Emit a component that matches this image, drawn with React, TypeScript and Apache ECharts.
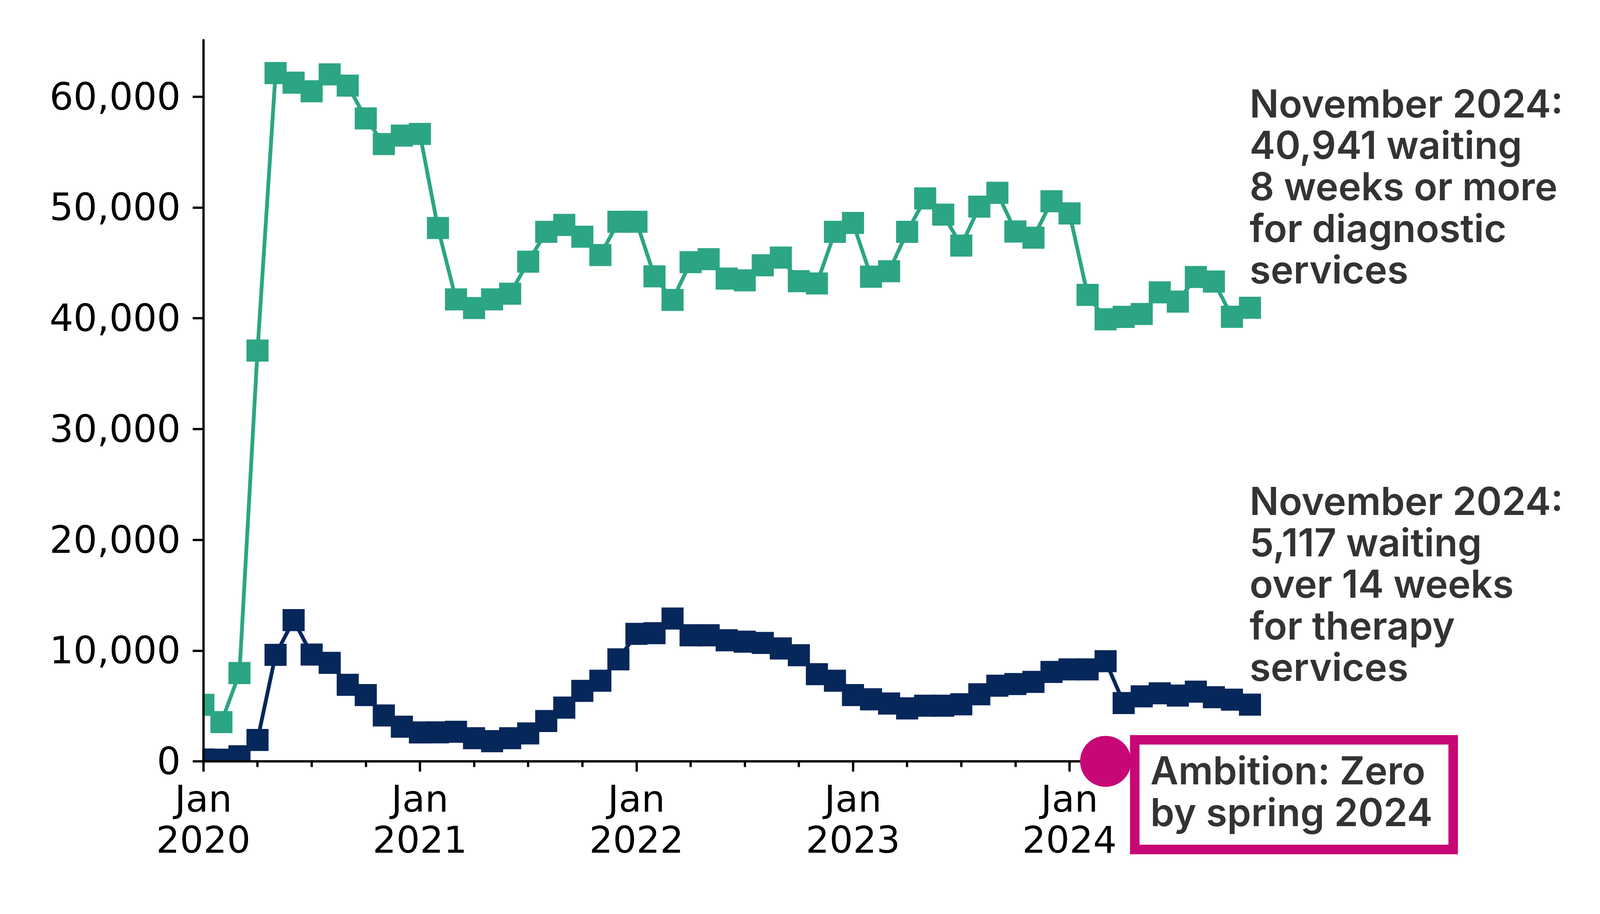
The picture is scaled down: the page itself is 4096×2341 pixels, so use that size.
import React, { useEffect, useRef } from "react";
import * as echarts from "echarts";

// ---- Data -----------------------------------------------------------
const YEARS = [2020, 2021, 2022, 2023, 2024];
const MONTH_NAMES = ["Jan", "Feb", "Mar", "Apr", "May", "Jun", "Jul", "Aug", "Sep", "Oct", "Nov", "Dec"];
// Jan 2020 .. Nov 2024 (59 months)
const MONTHS: string[] = [];
YEARS.forEach((y) =>
  MONTH_NAMES.forEach((m) => {
    if (MONTHS.length < 59) MONTHS.push(`${m} ${y}`);
  })
);

// Waiting 8 weeks or more for diagnostic services
const DIAGNOSTIC = [
  5100, 3540, 7970, 37080, 62130, 61260, 60490, 62010, 61000, 58040, 55720, 56490,
  56640, 48140, 41700, 40920, 41700, 42210, 45100, 47800, 48420, 47360, 45700, 48710,
  48710, 43780, 41650, 45060, 45330, 43580, 43420, 44780, 45470, 43340, 43140, 47800,
  48600, 43750, 44240, 47800, 50810, 49350, 46560, 50070, 51320, 47830, 47270, 50560,
  49460, 42110, 39900, 40120, 40380, 42340, 41500, 43720, 43310, 40130, 40941,
];

// Waiting over 14 weeks for therapy services
const THERAPY = [
  170, 150, 460, 1930, 9610, 12750, 9640, 8890, 6910, 5980, 4140, 3130,
  2610, 2620, 2670, 2090, 1820, 2090, 2520, 3640, 4850, 6360, 7280, 9210,
  11510, 11570, 12890, 11380, 11380, 10930, 10800, 10690, 10190, 9580, 7870, 7280,
  5980, 5600, 5220, 4780, 5020, 5020, 5150, 6050, 6830, 6980, 7170, 8070,
  8300, 8300, 9040, 5260, 5870, 6140, 5940, 6290, 5790, 5570, 5117,
];

const Y_TICKS = [0, 10000, 20000, 30000, 40000, 50000, 60000];
const Y_MAX = 65100;

const AMBITION_MONTH = "Mar 2024";
const AMBITION_VALUE = 0;

const DIAG_NOTE = ["November 2024:", "40,941 waiting", "8 weeks or more", "for diagnostic", "services"];
const THER_NOTE = ["November 2024:", "5,117 waiting", "over 14 weeks", "for therapy", "services"];
const AMBITION_NOTE = ["Ambition: Zero", "by spring 2024"];

// ---- Styles ----------------------------------------------------------
const GREEN = "#2ca584";
const NAVY = "#06275a";
const MAGENTA = "#c80776";
const TEXT_DARK = "#333333";

const W = 4096;
const H = 2341;
const S = 0.975;

const GRID_LEFT = 534 * S;
const GRID_RIGHT_X = 3282 * S;
const GRID_TOP = 105.5 * S;
const GRID_BOTTOM_Y = 2000 * S;

const AXIS_W = 6 * S;
const TICK_FONT = "DejaVu Sans";
const NOTE_FONT = "Inter";

export default function App() {
  const ref = useRef<HTMLDivElement>(null);

  useEffect(() => {
    if (!ref.current) return;
    const chart = echarts.init(ref.current, undefined, { renderer: "svg", width: W, height: H });

    const noteStyle = {
      fill: TEXT_DARK,
      fontFamily: NOTE_FONT,
      fontWeight: 600,
      fontSize: 98.5,
      lineHeight: 106.3,
      align: "left",
      verticalAlign: "top",
    };

    const boxOuterX = 2967 * S;
    const boxOuterY = 1931 * S;
    const boxOuterW = (3828 - 2967) * S;
    const boxOuterH = (2244 - 1931) * S;
    const boxStroke = 25 * S;

    const option: any = {
      animation: false,
      backgroundColor: "#ffffff",
      grid: {
        left: GRID_LEFT,
        top: GRID_TOP,
        right: W - GRID_RIGHT_X,
        bottom: H - GRID_BOTTOM_Y,
        containLabel: false,
        outerBoundsMode: "none",
      },
      xAxis: [
        {
          type: "category",
          data: MONTHS,
          boundaryGap: false,
          position: "bottom",
          z: 4,
          axisLine: { show: true, lineStyle: { color: "#000", width: AXIS_W } },
          axisTick: {
            show: true,
            length: 15 * S,
            lineStyle: { color: "#000", width: AXIS_W },
            interval: (i: number) => i % 3 === 0,
          },
          axisLabel: { show: false },
          splitLine: { show: false },
        },
        {
          type: "category",
          data: MONTHS,
          boundaryGap: false,
          position: "bottom",
          offset: 0,
          z: 4,
          axisLine: { show: false },
          axisTick: {
            show: true,
            length: 27 * S,
            lineStyle: { color: "#000", width: AXIS_W },
            interval: (i: number) => i % 12 === 0,
          },
          axisLabel: {
            show: true,
            interval: (i: number) => i % 12 === 0,
            formatter: (v: string) => {
              const [m, y] = v.split(" ");
              return `${m}\n${y}`;
            },
            color: "#000",
            fontFamily: TICK_FONT,
            fontSize: 95,
            lineHeight: 105.3,
            margin: 43,
            align: "center",
          },
          splitLine: { show: false },
        },
      ],
      yAxis: {
        type: "value",
        min: 0,
        max: Y_MAX,
        z: 4,
        axisLine: { show: true, lineStyle: { color: "#000", width: AXIS_W } },
        axisTick: {
          show: true,
          length: 28 * S,
          lineStyle: { color: "#000", width: AXIS_W },
          customValues: Y_TICKS,
        },
        axisLabel: {
          show: true,
          customValues: Y_TICKS,
          formatter: (v: number) => v.toLocaleString("en-US"),
          color: "#000",
          fontFamily: TICK_FONT,
          fontSize: 96,
          margin: 58,
        },
        splitLine: { show: false },
      },
      series: [
        {
          name: "Diagnostic",
          type: "line",
          data: DIAGNOSTIC,
          z: 2,
          symbol: "rect",
          symbolSize: 58 * S,
          showAllSymbol: true,
          lineStyle: { color: GREEN, width: 10 * S },
          itemStyle: { color: GREEN },
        },
        {
          name: "Therapy",
          type: "line",
          data: THERAPY,
          z: 2,
          symbol: "rect",
          symbolSize: 58 * S,
          showAllSymbol: true,
          lineStyle: { color: NAVY, width: 10 * S },
          itemStyle: { color: NAVY },
        },
        {
          name: "Ambition",
          type: "scatter",
          data: [[AMBITION_MONTH, AMBITION_VALUE]],
          z: 5,
          clip: false,
          symbol: "circle",
          symbolSize: 134 * S,
          itemStyle: { color: MAGENTA, opacity: 1 },
        },
      ],
      graphic: [
        // white masks to clip markers at the plot edges
        {
          type: "rect",
          z: 3,
          silent: true,
          shape: { x: 0, y: 0, width: GRID_LEFT - AXIS_W / 2, height: H },
          style: { fill: "#ffffff" },
        },
        {
          type: "rect",
          z: 3,
          silent: true,
          shape: { x: 0, y: GRID_BOTTOM_Y + AXIS_W / 2, width: W, height: H - GRID_BOTTOM_Y },
          style: { fill: "#ffffff" },
        },
        // ambition box
        {
          type: "rect",
          z: 6,
          shape: {
            x: boxOuterX + boxStroke / 2,
            y: boxOuterY + boxStroke / 2,
            width: boxOuterW - boxStroke,
            height: boxOuterH - boxStroke,
          },
          style: { fill: "#ffffff", stroke: MAGENTA, lineWidth: boxStroke },
        },
        {
          type: "text",
          z: 7,
          x: 2945,
          y: 1920,
          style: { ...noteStyle, text: AMBITION_NOTE.join("\n"), lineHeight: 107.3 },
        },
        {
          type: "text",
          z: 7,
          x: 3199,
          y: 212,
          style: { ...noteStyle, text: DIAG_NOTE.join("\n") },
        },
        {
          type: "text",
          z: 7,
          x: 3199,
          y: 1230,
          style: { ...noteStyle, text: THER_NOTE.join("\n") },
        },
      ],
    };

    chart.setOption(option);
    return () => chart.dispose();
  }, []);

  return (
    <div
      ref={ref}
      style={{ position: "absolute", left: 0, top: 0, width: W, height: H, background: "#fff" }}
    />
  );
}
